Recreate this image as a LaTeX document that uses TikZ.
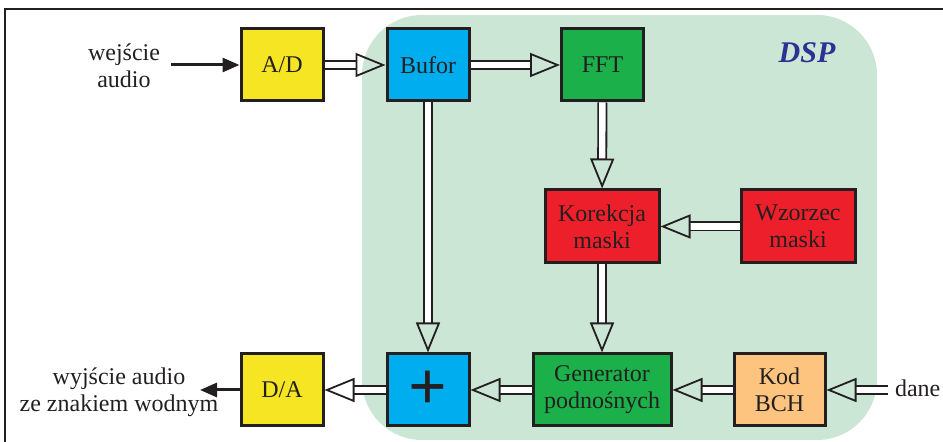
\documentclass[tikz,border=0pt]{standalone}
\usepackage{fontspec}
\setmainfont{Liberation Serif}
\usetikzlibrary{arrows.meta}
\definecolor{kzolty}{HTML}{F6E523}
\definecolor{kniebieski}{HTML}{00AEEF}
\definecolor{kzielony}{HTML}{1BB04A}
\definecolor{kczerwony}{HTML}{ED1F2B}
\definecolor{kpomar}{HTML}{FCC47E}
\definecolor{tlodsp}{HTML}{CCE6D5}
\definecolor{napisdsp}{HTML}{2E3192}
\definecolor{ramka}{HTML}{231F20}

\begin{document}
\begin{tikzpicture}[x=0.5pt,y=0.5pt,
  blok/.style={draw=ramka,line width=1.5pt,align=center,inner sep=0pt,
    text=ramka,font=\fontsize{12}{13.5}\selectfont},
  maly/.style={blok,minimum width=41pt,minimum height=36pt},
  duzy/.style={blok,minimum width=57pt,minimum height=36.5pt},
  podpis/.style={align=center,text=ramka,font=\fontsize{12}{13.5}\selectfont},
  dbl/.style={draw=ramka,double=white,double distance=3.2pt,line width=0.9pt,
    -{Triangle[open,length=15pt,width=12pt]}},
  pojed/.style={draw=ramka,line width=1.5pt,-{Triangle[length=8.5pt,width=7pt]}}]
  \useasboundingbox (0,0) rectangle (943,442);
  \clip (0,0) rectangle (943,442);
  \draw[ramka,line width=1pt] (5,433) rectangle (960,-20);
  \fill[tlodsp,rounded corners=30pt] (362,427) rectangle (877,2);
  \node[text=napisdsp,font=\fontsize{15}{15}\selectfont\bfseries\itshape] (dsp) at (807,389) {DSP};

  % bloki
  \node[maly,fill=kzolty] (ad) at (282,377) {A/D};
  \node[maly,fill=kniebieski] (buf) at (428,377) {Bufor};
  \node[maly,fill=kzielony] (fft) at (602.5,377) {FFT};
  \node[duzy,fill=kczerwony] (kor) at (602,215.5) {Korekcja\\maski};
  \node[duzy,fill=kczerwony] (wz) at (798,215.5) {Wzorzec\\maski};
  \node[maly,fill=kniebieski,font=\fontsize{34}{34}\selectfont\bfseries] (plus) at (428,52) {+};
  \node[maly,fill=kzolty] (da) at (282,52) {D/A};
  \node[blok,fill=kzielony,minimum width=69pt,minimum height=36pt] (gen) at (602,52) {Generator\\podnośnych};
  \node[blok,fill=kpomar,minimum width=45.5pt,minimum height=36pt] (bch) at (779.5,52) {Kod\\BCH};

  % we / wy
  \node[podpis] (we) at (124,376) {wejście\\audio};
  \node[podpis] (wy) at (119,50) {wyjście audio\\ze znakiem wodnym};
  \node[podpis,anchor=west] (dane) at (888,54) {dane};
  \coordinate (wep) at (171,377);
  \coordinate (wyk) at (200,52);
  \coordinate (danep) at (888,52);

  % strzalki
  \draw[pojed] (wep) -- (ad);
  \draw[pojed] (da) -- (wyk);
  \draw[dbl] (ad) -- (buf);
  \draw[dbl] (buf) -- (fft);
  \draw[dbl] (fft) -- (kor);
  \draw[dbl] (wz) -- (kor);
  \draw[dbl] (kor) -- (gen);
  \draw[dbl] (buf) -- (plus);
  \draw[dbl] (gen) -- (plus);
  \draw[dbl] (plus) -- (da);
  \draw[dbl] (bch) -- (gen);
  \draw[dbl] (danep) -- (bch);
\end{tikzpicture}
\end{document}
